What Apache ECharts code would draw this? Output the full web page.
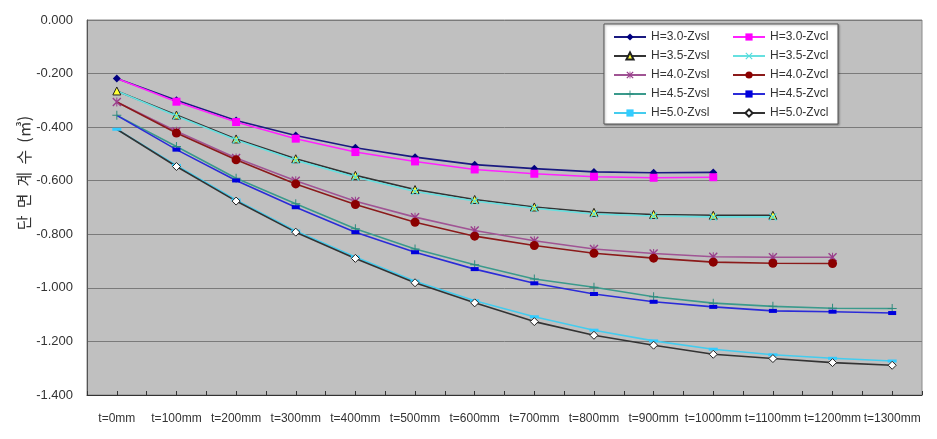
<!DOCTYPE html>
<html>
<head>
<meta charset="utf-8">
<script src="https://cdn.jsdelivr.net/npm/echarts@6/dist/echarts.min.js"></script>
<style>
  html, body { margin: 0; padding: 0; background: #fff; }
  #main { width: 937px; height: 439px; }
</style>
</head>
<body>
<div id="main"></div>
<script>
// x축 카테고리
var cats = ['t=0mm', 't=100mm', 't=200mm', 't=300mm', 't=400mm', 't=500mm', 't=600mm',
    't=700mm', 't=800mm', 't=900mm', 't=1000mm', 't=1100mm', 't=1200mm', 't=1300mm']

// 단면계수 값
var h30_zvsl = [-0.218, -0.300, -0.375, -0.431, -0.477, -0.512, -0.540, -0.555, -0.567, -0.570, -0.569]
var h30_zvcl = [-0.218, -0.305, -0.381, -0.443, -0.493, -0.528, -0.558, -0.574, -0.585, -0.589, -0.587]
var h35_zvsl = [-0.265, -0.355, -0.444, -0.518, -0.580, -0.633, -0.670, -0.698, -0.718, -0.726, -0.729, -0.729]
var h35_zvcl = [-0.265, -0.358, -0.448, -0.524, -0.586, -0.640, -0.676, -0.703, -0.724, -0.732, -0.735, -0.735]
var h40_zvsl = [-0.306, -0.415, -0.515, -0.600, -0.677, -0.736, -0.786, -0.824, -0.855, -0.872, -0.884, -0.886, -0.886]
var h40_zvcl = [-0.306, -0.422, -0.522, -0.612, -0.689, -0.755, -0.807, -0.842, -0.871, -0.889, -0.904, -0.908, -0.909]
var h45_zvsl = [-0.356, -0.472, -0.591, -0.686, -0.779, -0.855, -0.914, -0.967, -0.998, -1.033, -1.057, -1.069, -1.076, -1.077]
var h45_zvcl = [-0.356, -0.484, -0.599, -0.699, -0.792, -0.867, -0.930, -0.983, -1.023, -1.052, -1.071, -1.086, -1.089, -1.094]
var h50_zvsl = [-0.408, -0.543, -0.672, -0.788, -0.885, -0.975, -1.048, -1.108, -1.158, -1.198, -1.229, -1.250, -1.263, -1.273]
var h50_zvcl = [-0.408, -0.547, -0.676, -0.792, -0.890, -0.981, -1.056, -1.126, -1.177, -1.214, -1.248, -1.264, -1.279, -1.289]

// 마커 모양
var sym_x = 'path://M0,1 L1,0 L4.5,3.5 L8,0 L9,1 L5.5,4.5 L9,8 L8,9 L4.5,5.5 L1,9 L0,8 L3.5,4.5 Z'
var sym_star = 'path://M0,1 L1,0 L4,3 L4,0 L5,0 L5,3 L8,0 L9,1 L5.5,4.5 L9,8 L8,9 L5,6 L5,9 L4,9 L4,6 L1,9 L0,8 L3.5,4.5 Z'
var sym_plus = 'path://M4,0 L5,0 L5,4 L9,4 L9,5 L5,5 L5,9 L4,9 L4,5 L0,5 L0,4 L4,4 Z'

var chart = echarts.init(document.getElementById('main'))

// Zvcl 계열은 t=0 점의 마커를 감춤
function mk(arr, hideFirst) {
    return arr.map(function (v, i) {
        if (hideFirst && i == 0) return { value: v, symbol: 'none' }
        return v
    })
}

function line(name, data, color, symbol, size, fill, border, hideFirst) {
    return {
        name: name,
        type: 'line',
        data: mk(data, hideFirst),
        symbol: symbol,
        symbolSize: size,
        showAllSymbol: true,
        lineStyle: { color: color, width: 1.6 },
        itemStyle: { color: fill, borderColor: border, borderWidth: border ? 1 : 0 },
        emphasis: { disabled: true },
        animation: false
    }
}

var series = [
    line('H=3.0-Zvsl', h30_zvsl, '#1a1a80', 'diamond', 8, '#000080', null, false),
    line('H=3.0-Zvcl', h30_zvcl, '#ff22ff', 'rect', 8, '#ff00ff', null, true),
    line('H=3.5-Zvsl', h35_zvsl, '#333333', 'triangle', 8, '#ffff33', '#222222', false),
    line('H=3.5-Zvcl', h35_zvcl, '#66e0e0', sym_x, 8, '#55dddd', null, true),
    line('H=4.0-Zvsl', h40_zvsl, '#a05494', sym_star, 9, '#9a3d8c', null, false),
    line('H=4.0-Zvcl', h40_zvcl, '#8b1a1a', 'circle', 9, '#8b0000', null, true),
    line('H=4.5-Zvsl', h45_zvsl, '#3a9a8c', sym_plus, 9, '#2e8b7e', null, false),
    line('H=4.5-Zvcl', h45_zvcl, '#2b2bd8', 'rect', [8, 4], '#0000dd', null, true),
    line('H=5.0-Zvsl', h50_zvsl, '#44ccee', 'rect', [9, 3], '#33ccff', null, false),
    line('H=5.0-Zvcl', h50_zvcl, '#333333', 'diamond', 8, '#ffffff', '#222222', true)
]

var legendText = { fontSize: 12, color: '#333', fontFamily: 'Liberation Sans' }

var option = {
    backgroundColor: '#ffffff',
    grid: [
        {
            left: 87, right: 15, top: 20, bottom: 44,
            show: true,
            backgroundColor: '#c0c0c0',
            borderColor: '#8a8a8a',
            borderWidth: 1
        },
        // 눈금 표시용 보조 격자 (같은 위치)
        { left: 87, right: 15, top: 20, bottom: 44, show: false }
    ],
    graphic: [
        {
            type: 'rect', z: 10,
            shape: { x: 604, y: 24, width: 234, height: 100 },
            style: { fill: '#ffffff', stroke: '#555555', lineWidth: 1, shadowBlur: 2, shadowColor: 'rgba(0,0,0,0.3)', shadowOffsetX: 1, shadowOffsetY: 1 }
        },
        {
            type: 'text', z: 10,
            x: 24, y: 173,
            rotation: Math.PI / 2,
            style: {
                text: '단  면  계  수  (㎥)',
                x: 0, y: 0,
                align: 'center', verticalAlign: 'middle',
                fill: '#333333',
                font: '16px "Noto Sans CJK KR"'
            }
        }
    ],
    legend: [
        {
            data: ['H=3.0-Zvsl', 'H=3.5-Zvsl', 'H=4.0-Zvsl', 'H=4.5-Zvsl', 'H=5.0-Zvsl'],
            orient: 'vertical', left: 611, top: 29, z: 20,
            itemWidth: 32, itemHeight: 9, itemGap: 7, padding: 2,
            textStyle: legendText
        },
        {
            data: ['H=3.0-Zvcl', 'H=3.5-Zvcl', 'H=4.0-Zvcl', 'H=4.5-Zvcl', 'H=5.0-Zvcl'],
            orient: 'vertical', left: 730, top: 29, z: 20,
            itemWidth: 32, itemHeight: 9, itemGap: 7, padding: 2,
            textStyle: legendText
        }
    ],
    xAxis: [
        {
            type: 'category',
            gridIndex: 0,
            data: cats,
            boundaryGap: true,
            axisLine: { onZero: false, lineStyle: { color: '#333333', width: 1 } },
            axisTick: { show: true, inside: true, length: 4, lineStyle: { color: '#333333' } },
            axisLabel: { interval: 0, margin: 18, fontSize: 12, color: '#333', fontFamily: 'Liberation Sans' },
            splitLine: { show: false }
        },
        {
            type: 'category',
            gridIndex: 1,
            data: cats,
            position: 'bottom',
            boundaryGap: true,
            axisLine: { show: false, onZero: false },
            axisTick: { show: true, inside: true, alignWithLabel: true, interval: 0, length: 4, lineStyle: { color: '#333333' } },
            axisLabel: { show: false },
            splitLine: { show: false }
        }
    ],
    yAxis: [
        {
            type: 'value',
            gridIndex: 0,
            min: -1.4,
            max: 0,
            interval: 0.2,
            axisLine: { show: true, lineStyle: { color: '#555555' } },
            axisTick: { show: false },
            axisLabel: {
                margin: 14, fontSize: 13, color: '#333', fontFamily: 'Liberation Sans',
                formatter: function (v) { return v.toFixed(3) }
            },
            splitLine: { show: true, lineStyle: { color: '#7a7a7a', width: 1 } }
        },
        {
            type: 'value',
            gridIndex: 1,
            min: -1.4, max: 0, interval: 0.2,
            show: false
        }
    ],
    series: series
}

chart.setOption(option)
</script>
</body>
</html>
